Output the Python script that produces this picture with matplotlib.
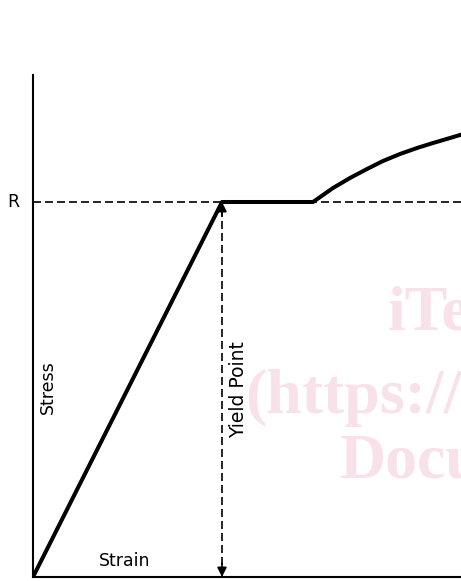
import matplotlib
matplotlib.use("Agg")
import matplotlib.pyplot as plt

# stress-strain curve (arbitrary units)
strain = [0, 189, 280, 300, 317, 334, 350, 367, 384, 400, 417, 427, 440]
stress = [0, 375, 375, 389, 399, 408, 416, 423, 429, 434, 439, 442, 446]
yield_strain = 189
yield_stress = 375
x_max = 428
y_max = 502

fig = plt.figure(figsize=(4.61, 5.81), dpi=100)
ax = fig.add_axes([33/461, 4/581, 428/461, 502/581])
ax.set_xlim(0, x_max)
ax.set_ylim(0, y_max)
for s in ["top", "right"]:
    ax.spines[s].set_visible(False)
for s in ["left", "bottom"]:
    ax.spines[s].set_linewidth(1.5)
ax.set_xticks([])
ax.set_yticks([])

# watermark
wm = dict(family="Liberation Serif", weight="bold", fontsize=46, color="#f9e1e9", zorder=0)
fig.text(388/461, 1 - 330/581, "iTe", va="baseline", ha="left", **wm)
fig.text(245/461, 1 - 413/581, "(https://", va="baseline", ha="left", **wm)
fig.text(340/461, 1 - 477/581, "Docu", va="baseline", ha="left", **wm)

# R line
ax.plot([0, x_max], [yield_stress, yield_stress], color="black", lw=1.2,
        linestyle=(0, (4.8, 2.4)), clip_on=False, zorder=2)
# yield arrow
ax.plot([yield_strain, yield_strain], [0, yield_stress], color="black", lw=1.2,
        linestyle=(0, (4.8, 2.4)), zorder=2)
ax.annotate("", xy=(yield_strain, yield_stress), xytext=(yield_strain, yield_stress - 14),
            arrowprops=dict(arrowstyle="-|>", color="black", lw=1.2, mutation_scale=14,
                            shrinkA=0, shrinkB=0))
ax.annotate("", xy=(yield_strain, 0), xytext=(yield_strain, 14),
            arrowprops=dict(arrowstyle="-|>", color="black", lw=1.2, mutation_scale=14,
                            shrinkA=0, shrinkB=0), annotation_clip=False)

ax.plot(strain, stress, color="black", lw=2.9, solid_joinstyle="round", zorder=3)

ax.text(-20, yield_stress, "R", fontsize=12.5, ha="center", va="center")
ax.text(15, 190, "Stress", fontsize=12.5, rotation=90, ha="center", va="center")
ax.text(yield_strain + 17, 187, "Yield Point", fontsize=13.5, rotation=90,
        ha="center", va="center", zorder=4)
ax.text(92, 16, "Strain", fontsize=12.5, ha="center", va="center")

fig.savefig("out.png", dpi=100)
